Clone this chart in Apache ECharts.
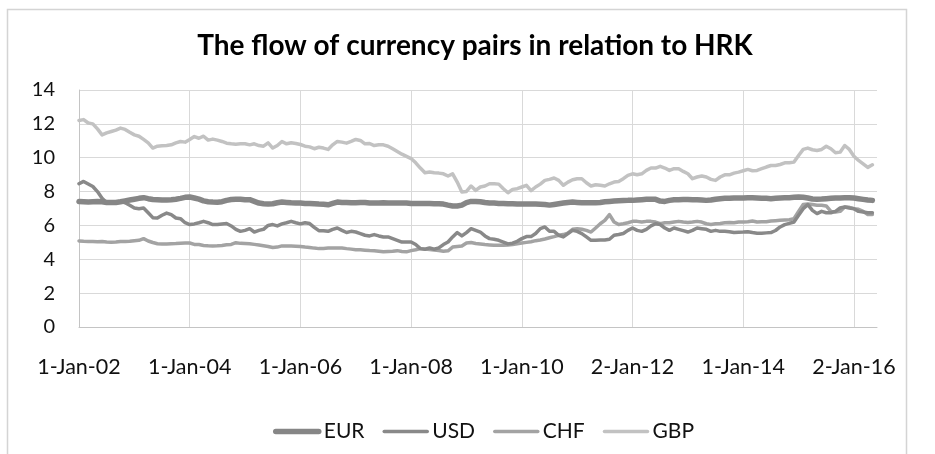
<!DOCTYPE html>
<html>
<head>
<meta charset="utf-8">
<script src="https://cdn.jsdelivr.net/npm/echarts@6/dist/echarts.min.js"></script>
<style>
  html, body { margin: 0; padding: 0; background: #fff; }
  #chart-div { width: 935px; height: 454px; }
</style>
</head>
<body>
<div id="chart-div"></div>
<script>
// tick labels shown every 24 months on the category axis
const tickLabels = ['1-Jan-02', '1-Jan-04', '1-Jan-06', '1-Jan-08', '1-Jan-10', '2-Jan-12', '1-Jan-14', '2-Jan-16']
const seriesNames = ['EUR', 'USD', 'CHF', 'GBP']

// monthly values, Jan 2002 .. May 2016 (one row = one year)
const eur = [
  7.42, 7.40, 7.38, 7.40, 7.42, 7.40, 7.36, 7.35, 7.36, 7.40, 7.45, 7.50,
  7.55, 7.60, 7.64, 7.58, 7.53, 7.52, 7.50, 7.50, 7.52, 7.55, 7.60, 7.66,
  7.68, 7.62, 7.55, 7.45, 7.40, 7.38, 7.37, 7.40, 7.48, 7.53, 7.54, 7.55,
  7.52, 7.52, 7.42, 7.32, 7.28, 7.26, 7.28, 7.34, 7.38, 7.36, 7.34, 7.33,
  7.32, 7.30, 7.30, 7.28, 7.26, 7.25, 7.22, 7.30, 7.38, 7.36, 7.35, 7.34,
  7.34, 7.35, 7.36, 7.33, 7.32, 7.33, 7.34, 7.33, 7.32, 7.32, 7.33, 7.33,
  7.30, 7.30, 7.30, 7.29, 7.29, 7.28, 7.28, 7.26, 7.20, 7.15, 7.15, 7.20,
  7.35, 7.42, 7.42, 7.40, 7.35, 7.32, 7.32, 7.30, 7.30, 7.28, 7.28, 7.27,
  7.27, 7.26, 7.26, 7.26, 7.25, 7.24, 7.20, 7.24, 7.28, 7.32, 7.36, 7.38,
  7.36, 7.34, 7.34, 7.34, 7.34, 7.36, 7.40, 7.42, 7.44, 7.46, 7.47, 7.48,
  7.48, 7.50, 7.52, 7.54, 7.54, 7.54, 7.44, 7.42, 7.48, 7.52, 7.52, 7.53,
  7.53, 7.52, 7.52, 7.50, 7.48, 7.50, 7.55, 7.58, 7.60, 7.60, 7.62, 7.62,
  7.62, 7.63, 7.63, 7.62, 7.60, 7.60, 7.58, 7.60, 7.62, 7.63, 7.64, 7.66,
  7.68, 7.66, 7.62, 7.56, 7.55, 7.56, 7.58, 7.60, 7.62, 7.62, 7.63, 7.64,
  7.62, 7.58, 7.54, 7.50, 7.48
]
const usd = [
  8.46, 8.60, 8.45, 8.30, 8.00, 7.60, 7.34, 7.38, 7.38, 7.42, 7.34, 7.19,
  7.03, 6.99, 7.03, 6.75, 6.46, 6.44, 6.60, 6.73, 6.64, 6.44, 6.40, 6.16,
  6.05, 6.09, 6.16, 6.24, 6.16, 6.05, 6.05, 6.09, 6.11, 5.97, 5.77, 5.65,
  5.71, 5.81, 5.61, 5.71, 5.77, 6.00, 6.05, 5.97, 6.09, 6.16, 6.24, 6.16,
  6.09, 6.16, 6.11, 5.89, 5.69, 5.69, 5.65, 5.77, 5.85, 5.71, 5.58, 5.65,
  5.61, 5.52, 5.42, 5.38, 5.46, 5.38, 5.32, 5.32, 5.22, 5.12, 5.02, 5.02,
  5.02, 4.87, 4.63, 4.59, 4.67, 4.59, 4.67, 4.87, 5.02, 5.32, 5.58, 5.38,
  5.58, 5.81, 5.71, 5.61, 5.38, 5.22, 5.18, 5.12, 5.02, 4.91, 4.95, 5.06,
  5.22, 5.34, 5.34, 5.52, 5.81, 5.91, 5.65, 5.65, 5.42, 5.32, 5.52, 5.71,
  5.65, 5.52, 5.32, 5.12, 5.12, 5.14, 5.14, 5.18, 5.42, 5.46, 5.52, 5.71,
  5.85, 5.71, 5.65, 5.77, 5.97, 6.10, 6.05, 5.85, 5.71, 5.85, 5.77, 5.69,
  5.61, 5.71, 5.85, 5.81, 5.77, 5.65, 5.71, 5.65, 5.65, 5.63, 5.58, 5.60,
  5.61, 5.63, 5.58, 5.54, 5.54, 5.56, 5.58, 5.70, 5.91, 6.05, 6.12, 6.20,
  6.60, 6.99, 7.23, 6.89, 6.70, 6.83, 6.75, 6.75, 6.83, 7.03, 7.09, 7.03,
  6.99, 6.83, 6.79, 6.75, 6.75
]
const chf = [
  5.08, 5.06, 5.05, 5.05, 5.04, 5.05, 5.02, 5.01, 5.02, 5.05, 5.05, 5.06,
  5.10, 5.12, 5.22, 5.08, 4.99, 4.92, 4.90, 4.91, 4.92, 4.93, 4.95, 4.96,
  4.96, 4.88, 4.87, 4.82, 4.80, 4.79, 4.80, 4.82, 4.86, 4.88, 4.98, 4.94,
  4.93, 4.92, 4.88, 4.84, 4.80, 4.76, 4.70, 4.72, 4.79, 4.78, 4.78, 4.77,
  4.76, 4.72, 4.70, 4.66, 4.63, 4.64, 4.66, 4.66, 4.67, 4.67, 4.63, 4.60,
  4.57, 4.56, 4.54, 4.52, 4.51, 4.48, 4.44, 4.46, 4.48, 4.51, 4.46, 4.44,
  4.51, 4.56, 4.63, 4.60, 4.58, 4.55, 4.52, 4.48, 4.50, 4.72, 4.76, 4.78,
  4.96, 4.99, 4.93, 4.90, 4.87, 4.85, 4.83, 4.83, 4.83, 4.84, 4.87, 4.92,
  4.96, 5.00, 5.04, 5.10, 5.14, 5.20, 5.27, 5.34, 5.42, 5.46, 5.55, 5.77,
  5.81, 5.77, 5.71, 5.61, 5.85, 6.10, 6.30, 6.64, 6.20, 6.05, 6.10, 6.16,
  6.24, 6.24, 6.20, 6.24, 6.24, 6.20, 6.10, 6.16, 6.16, 6.20, 6.24, 6.20,
  6.18, 6.20, 6.24, 6.20, 6.10, 6.05, 6.10, 6.12, 6.16, 6.18, 6.16, 6.20,
  6.20, 6.22, 6.26, 6.20, 6.22, 6.22, 6.26, 6.28, 6.30, 6.32, 6.34, 6.40,
  6.83, 7.23, 7.27, 7.23, 7.19, 7.19, 7.15, 6.83, 6.79, 6.83, 7.09, 7.07,
  6.99, 6.95, 6.83, 6.64, 6.64
]
const gbp = [
  12.20, 12.25, 12.05, 12.00, 11.70, 11.35, 11.47, 11.55, 11.63, 11.75, 11.67, 11.50,
  11.35, 11.27, 11.08, 10.88, 10.57, 10.68, 10.70, 10.72, 10.76, 10.88, 10.96, 10.92,
  11.08, 11.25, 11.15, 11.27, 11.04, 11.10, 11.04, 10.96, 10.86, 10.82, 10.80, 10.82,
  10.82, 10.76, 10.82, 10.72, 10.68, 10.88, 10.57, 10.72, 10.96, 10.82, 10.88, 10.84,
  10.78, 10.68, 10.64, 10.53, 10.62, 10.57, 10.49, 10.76, 10.96, 10.92, 10.86, 10.96,
  11.08, 11.02, 10.82, 10.84, 10.72, 10.76, 10.76, 10.68, 10.53, 10.37, 10.21, 10.08,
  9.95, 9.70, 9.39, 9.11, 9.15, 9.11, 9.09, 9.05, 8.92, 9.05, 8.56, 7.97,
  8.01, 8.33, 8.07, 8.27, 8.33, 8.46, 8.46, 8.44, 8.17, 7.93, 8.13, 8.17,
  8.27, 8.37, 8.05, 8.27, 8.44, 8.66, 8.72, 8.80, 8.66, 8.37, 8.56, 8.70,
  8.76, 8.76, 8.52, 8.33, 8.40, 8.37, 8.33, 8.46, 8.56, 8.60, 8.76, 8.96,
  9.05, 8.99, 9.05, 9.25, 9.39, 9.39, 9.49, 9.39, 9.25, 9.35, 9.35, 9.19,
  9.05, 8.76, 8.86, 8.92, 8.86, 8.72, 8.66, 8.86, 8.99, 8.99, 9.09, 9.15,
  9.23, 9.31, 9.23, 9.25, 9.35, 9.45, 9.54, 9.54, 9.60, 9.70, 9.70, 9.74,
  10.13, 10.49, 10.57, 10.47, 10.43, 10.49, 10.68, 10.53, 10.29, 10.33, 10.72, 10.49,
  10.09, 9.84, 9.64, 9.43, 9.58
]

// kategoriat: yksi per kuukausi, yksi ylimääräinen lopussa jotta akseli jatkuu reunaan
let months = []
for (let i = 0; i < 174; i++) {
  const y = 2002 + Math.floor(i / 12)
  const m = (i % 12) + 1
  months.push(`${y}-${m < 10 ? '0' + m : m}`)
}

const font = 'Lato, "Open Sans", sans-serif'
const colors = ['#868686', '#898989', '#a3a3a3', '#c2c2c2']
const widths = [5.5, 3.5, 3.5, 3.5]
const values = [eur, usd, chf, gbp]

let myChart = echarts.init(document.getElementById('chart-div'))

const option = {
  animation: false,
  backgroundColor: '#fff',
  title: {
    text: 'The flow of currency pairs in relation to HRK',
    left: 470,
    top: 27,
    textAlign: 'center',
    textStyle: { fontFamily: font, fontSize: 28, fontWeight: 'bold', color: '#000' }
  },
  graphic: [{
    type: 'rect',
    shape: { x: 7.5, y: 9.5, width: 899, height: 470 },
    style: { fill: null, stroke: '#d4d4d4', lineWidth: 1.5 },
    silent: true
  }],
  legend: {
    left: 268,
    top: 416,
    itemWidth: 43,
    itemHeight: 16,
    itemGap: 18,
    itemStyle: { opacity: 0 },
    textStyle: { fontFamily: font, fontSize: 21, color: '#111', padding: [0, 0, 0, 0] },
    data: seriesNames.map((name, k) => ({ name: name, lineStyle: { width: widths[k] } }))
  },
  grid: { left: 79, right: 58, top: 90, bottom: 127, containLabel: false },
  xAxis: {
    type: 'category',
    boundaryGap: false,
    data: months,
    axisLine: { lineStyle: { color: '#c4c4c4', width: 1 } },
    axisTick: { show: false },
    axisLabel: {
      interval: (index) => index % 24 === 0,
      formatter: (value, index) => tickLabels[index / 24],
      margin: 29,
      fontFamily: font,
      fontSize: 21.5,
      color: '#111'
    },
    splitLine: {
      show: true,
      interval: (index) => index % 24 === 0 && index > 0,
      lineStyle: { color: '#d9d9d9', width: 1 }
    }
  },
  yAxis: {
    type: 'value',
    min: 0,
    max: 14,
    interval: 2,
    axisLine: { show: true, lineStyle: { color: '#c4c4c4', width: 1 } },
    axisTick: { show: false },
    axisLabel: { margin: 24, fontFamily: font, fontSize: 20, color: '#111' },
    splitLine: { lineStyle: { color: '#d9d9d9', width: 1 } }
  },
  series: seriesNames.map((name, k) => ({
    name: name,
    type: 'line',
    data: values[k],
    symbol: 'none',
    smooth: false,
    color: colors[k],
    lineStyle: { color: colors[k], width: widths[k], cap: 'round', join: 'round' },
    z: 10 - k
  }))
}

myChart.setOption(option)
</script>
</body>
</html>
